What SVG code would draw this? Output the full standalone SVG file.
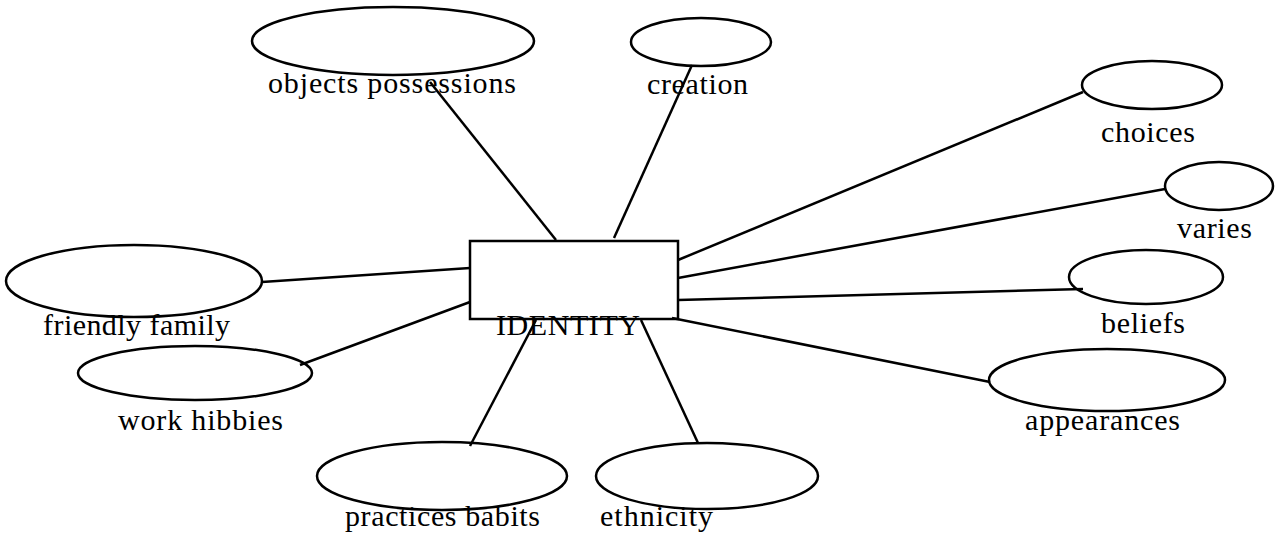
<svg xmlns="http://www.w3.org/2000/svg" width="1275" height="533" viewBox="0 0 1275 533">
<style>
.n{fill:#fff;stroke:#000;stroke-width:2.5}
.c line{stroke:#000;stroke-width:2.5}
text{font-family:"Liberation Serif","Times New Roman",serif;font-size:30px;fill:#000}
</style>
<rect width="1275" height="533" fill="#fff"/>
<g id="ellipses">
<g id="n-objects"><ellipse class="n" cx="393" cy="41" rx="141" ry="34"/></g>
<g id="n-creation"><ellipse class="n" cx="701" cy="42" rx="70" ry="24"/></g>
<g id="n-choices"><ellipse class="n" cx="1152" cy="85" rx="70" ry="24"/></g>
<g id="n-varies"><ellipse class="n" cx="1219" cy="186" rx="54" ry="24"/></g>
<g id="n-beliefs"><ellipse class="n" cx="1146" cy="277" rx="77" ry="27"/></g>
<g id="n-appearances"><ellipse class="n" cx="1107" cy="380" rx="118" ry="31"/></g>
<g id="n-friendly"><ellipse class="n" cx="134" cy="281" rx="128" ry="36"/></g>
<g id="n-work"><ellipse class="n" cx="195" cy="373" rx="117" ry="27"/></g>
<g id="n-practices"><ellipse class="n" cx="442" cy="476" rx="125" ry="34"/></g>
<g id="n-ethnicity"><ellipse class="n" cx="707" cy="476" rx="111" ry="33"/></g>
<g id="n-identity"><rect class="n" x="470" y="241" width="208" height="78"/></g>
</g>
<g id="connectors" class="c">
<line x1="430" y1="82" x2="556" y2="240"/>
<line x1="692" y1="65" x2="614" y2="238"/>
<line x1="1083" y1="92" x2="678" y2="260"/>
<line x1="1165" y1="189" x2="678" y2="278"/>
<line x1="1083" y1="289" x2="678" y2="300"/>
<line x1="990" y1="382" x2="672" y2="318"/>
<line x1="262" y1="282" x2="470" y2="268"/>
<line x1="300" y1="365" x2="470" y2="302"/>
<line x1="536" y1="320" x2="470" y2="446"/>
<line x1="641" y1="320" x2="698" y2="443"/>
</g>
<g id="labels">
<text x="268" y="93" textLength="248">objects possessions</text>
<text x="647" y="94" textLength="101">creation</text>
<text x="1101" y="142" textLength="94">choices</text>
<text x="1177" y="238" textLength="75">varies</text>
<text x="1101" y="333" textLength="84">beliefs</text>
<text x="1025" y="430" textLength="155">appearances</text>
<text x="43" y="335" textLength="187">friendly family</text>
<text x="118" y="430" textLength="165">work hibbies</text>
<text x="496" y="335" textLength="144">IDENTITY</text>
<text x="345" y="526" textLength="195">practices babits</text>
<text x="600" y="526" textLength="113">ethnicity</text>
</g>
</svg>
